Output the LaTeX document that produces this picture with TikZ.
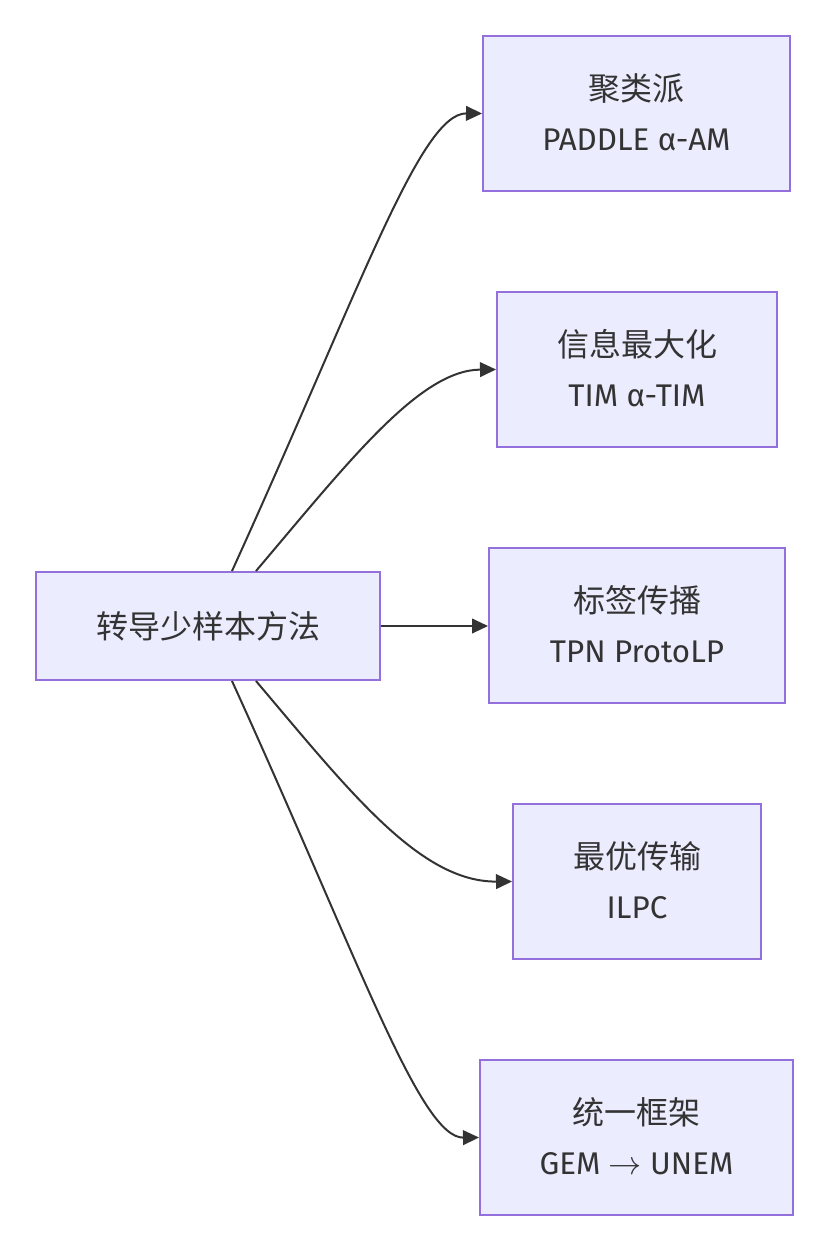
\documentclass[tikz,border=0pt]{standalone}
\usepackage{fontspec}
\setmainfont{Fira Sans}
\newfontfamily\cjk{Noto Sans CJK SC}
\usetikzlibrary{arrows.meta}
\definecolor{boxfill}{HTML}{ECECFF}
\definecolor{boxline}{HTML}{9370DB}
\definecolor{txt}{HTML}{333333}
\tikzset{
  box/.style={draw=boxline, fill=boxfill, line width=1.5pt, rectangle, inner sep=0pt,
    align=center, text=txt, font=\fontsize{23.5}{36.75}\selectfont},
  link/.style={draw=txt, line width=1.5pt, -{Triangle[length=12pt,width=11pt]}}
}
\begin{document}
\begin{tikzpicture}[x=0.75pt,y=-0.75pt]
\useasboundingbox (0,0) rectangle (830,1252);
\node[box, minimum width=344*0.75pt, minimum height=108*0.75pt] (src) at (208,626) {{\cjk\fontsize{24}{36.75}\selectfont 转导少样本方法}};
\node[box, minimum width=307*0.75pt, minimum height=155*0.75pt] (n1) at (636.5,113.5) {\raisebox{3pt}{\cjk\fontsize{24}{36.75}\selectfont 聚类派}\\\raisebox{2pt}{PADDLE α-AM}};
\node[box, minimum width=280*0.75pt, minimum height=155*0.75pt] (n2) at (637,369.5) {\raisebox{3pt}{\cjk\fontsize{24}{36.75}\selectfont 信息最大化}\\\raisebox{2pt}{TIM α-TIM}};
\node[box, minimum width=296*0.75pt, minimum height=155*0.75pt] (n3) at (637,625.5) {\raisebox{3pt}{\cjk\fontsize{24}{36.75}\selectfont 标签传播}\\\raisebox{2pt}{TPN ProtoLP}};
\node[box, minimum width=248*0.75pt, minimum height=155*0.75pt] (n4) at (637,881.5) {\raisebox{3pt}{\cjk\fontsize{24}{36.75}\selectfont 最优传输}\\\raisebox{2pt}{ILPC}};
\node[box, minimum width=313*0.75pt, minimum height=155*0.75pt] (n5) at (636.5,1137.5) {\raisebox{3pt}{\cjk\fontsize{24}{36.75}\selectfont 统一框架}\\\raisebox{2pt}{GEM $\rightarrow$ UNEM}};
\draw[link] ([xshift=24*0.75pt]src.north) .. controls (360,290) and (420,113) .. (n1.west);
\draw[link] ([xshift=48*0.75pt]src.north) .. controls (350,460) and (420,370) .. (n2.west);
\draw[link] (src.east) -- (n3.west |- src.east);
\draw[link] ([xshift=48*0.75pt]src.south) .. controls (350,792) and (420,882) .. (n4.west);
\draw[link] ([xshift=24*0.75pt]src.south) .. controls (360,962) and (420,1138) .. (n5.west);
\end{tikzpicture}
\end{document}
